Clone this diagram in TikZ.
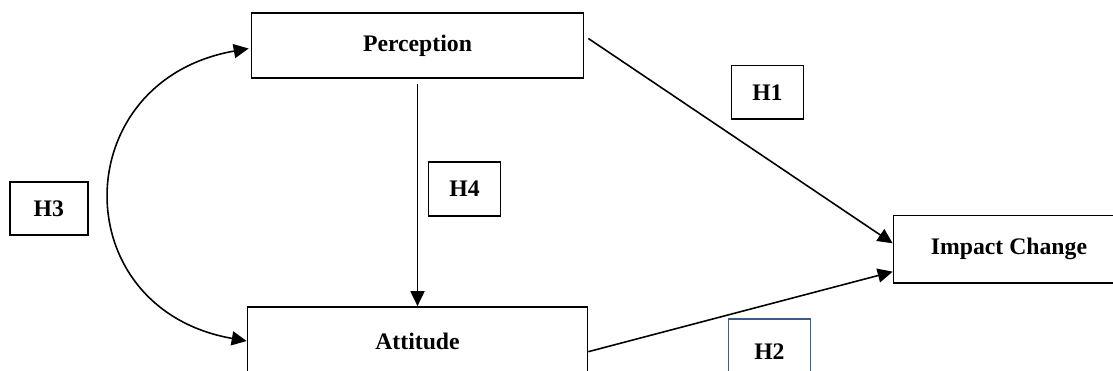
\documentclass[tikz,border=0pt]{standalone}
\usepackage{fontspec}
\setmainfont{Liberation Serif}
\usetikzlibrary{arrows.meta}
\definecolor{hblue}{RGB}{56,93,138}

\begin{document}
\begin{tikzpicture}[x=0.02cm,y=0.02cm,>={Triangle[length=8.5pt,width=8pt]},
  box/.style={draw,line width=1pt,inner sep=0pt,font=\fontsize{13.5}{16}\selectfont\bfseries},
  arr/.style={line width=0.9pt,->}]
  \clip (0,0) rectangle (1113,371);
  \node[box,minimum width=6.64cm,minimum height=1.29cm] (percep) at (417.5,325.5) {Perception};
  \node[box,minimum width=6.8cm,minimum height=1.36cm] (attit) at (417.5,30) {Attitude};
  \node[box,minimum width=4.62cm,minimum height=1.35cm] (impact) at (1009,121.7) {Impact Change};
  \node[box,minimum width=1.44cm,minimum height=1.07cm] (h1) at (767.4,278.7) {H1};
  \node[box,draw=hblue,minimum width=1.64cm,minimum height=1.3cm] (h2) at (769.4,19.3) {H2};
  \node[box,minimum width=1.56cm,minimum height=1.07cm] (h3) at (48.9,162.6) {H3};
  \node[box,minimum width=1.44cm,minimum height=1.07cm] (h4) at (464.6,182) {H4};
  \draw[arr,shorten <=2.8pt] (percep.south) -- (attit.north);
  \draw[arr] ([shift={(4,7)}]percep.east) -- ([shift={(0,6)}]impact.west);
  \draw[arr] ([shift={(0,-10.7)}]attit.east) -- ([shift={(0,-22.4)}]impact.west);
  \draw[line width=0.9pt,<->] (attit.west) to[out=170,in=190,looseness=1.62] ([shift={(-2,-3)}]percep.west);
\end{tikzpicture}
\end{document}
